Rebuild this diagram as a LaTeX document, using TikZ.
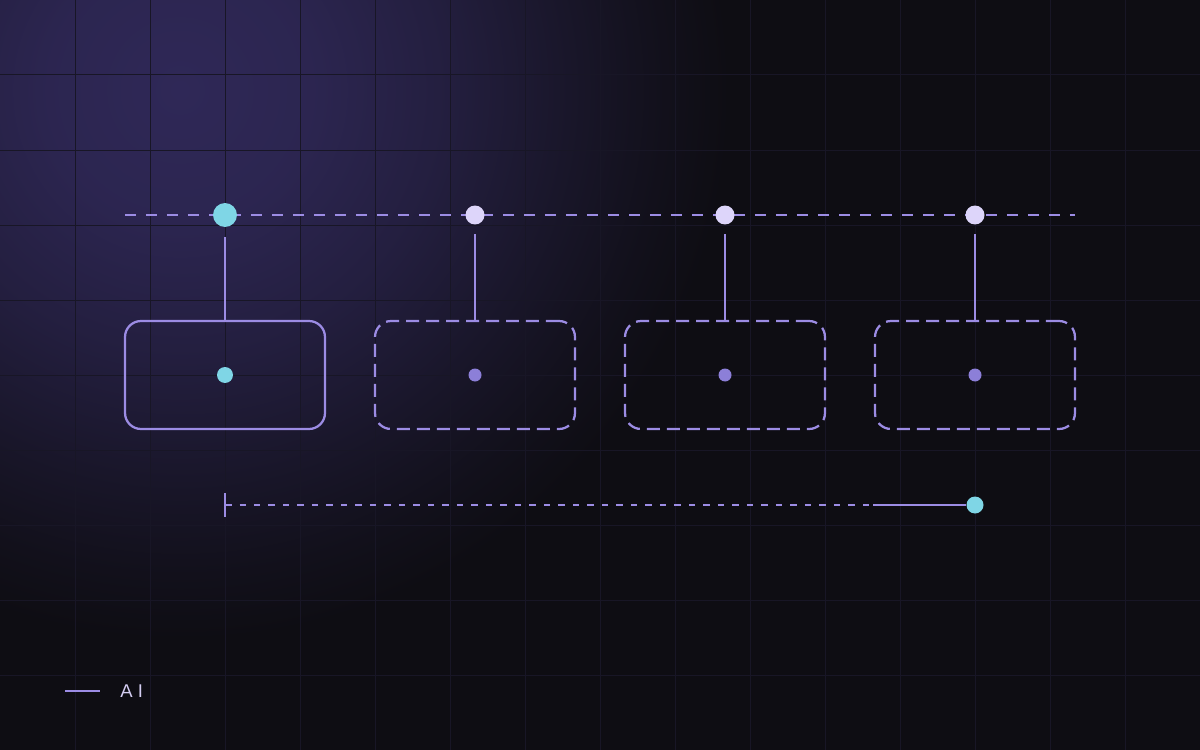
\documentclass[tikz,border=0pt]{standalone}
\usepackage{fontspec}
\setmainfont{Liberation Sans}
\usetikzlibrary{positioning}
\definecolor{bgc}{HTML}{0E0D13}
\definecolor{glowc}{HTML}{2F2857}
\definecolor{gridc}{HTML}{181626}
\definecolor{linec}{HTML}{9C8CE4}
\definecolor{cyanc}{HTML}{7FD6E6}
\definecolor{palec}{HTML}{DDD5FA}
\definecolor{dotc}{HTML}{8C7FD8}
\definecolor{textc}{HTML}{D4CDF2}
\pgfdeclareradialshading{glow}{\pgfpoint{0bp}{0bp}}{color(0bp)=(glowc); color(6bp)=(glowc!90!bgc); color(12bp)=(glowc!65!bgc); color(18bp)=(glowc!32!bgc); color(22bp)=(glowc!12!bgc); color(25bp)=(bgc); color(50bp)=(bgc)}
\tikzset{
	gridline/.style={draw=gridc, line width=0.02cm},
	wire/.style={draw=linec, line width=0.04cm},
	dashwire/.style={wire, dash pattern=on 0.22cm off 0.2cm},
	finedash/.style={draw=linec, line width=0.035cm, dash pattern=on 0.13cm off 0.16cm},
	card/.style={draw=linec, line width=0.045cm, rounded corners=0.32cm, minimum width=4cm, minimum height=2.16cm, inner sep=0pt},
	ghostcard/.style={card, dash pattern=on 0.26cm off 0.14cm},
	dot/.style={circle, fill=#1, draw=none, inner sep=0pt},
	pin/.style={dot=palec, minimum size=0.38cm},
}

\begin{document}
\begin{tikzpicture}[x=0.02cm, y=-0.02cm]
	\useasboundingbox (0,0) rectangle (1200,750);
	\fill[bgc] (0,0) rectangle (1200,750);
	\begin{scope}
		\clip (0,0) rectangle (1200,750);
		\shade[shading=glow] (180,90) circle (11cm);
	\end{scope}
	% grid
	\foreach \x in {75,150,...,1125} \draw[gridline] (\x,0) -- (\x,750);
	\foreach \y in {75,150,...,675} \draw[gridline] (0,\y) -- (1200,\y);

	% top rail
	\coordinate (tl) at (125,215);
	\coordinate (tr) at (1075,215);
	\draw[dashwire] (tl) -- (tr);
	\node[dot=cyanc, minimum size=0.48cm] (d1) at (225,215) {};
	\foreach \i/\x in {2/475, 3/725, 4/975} \node[pin] (d\i) at (\x,215) {};

	% cards
	\node[card] (b1) at (225,375) {};
	\node[dot=cyanc, minimum size=0.32cm] (c1) at (b1.center) {};
	\foreach \i/\x in {2/475, 3/725, 4/975} {
		\node[ghostcard] (b\i) at (\x,375) {};
		\node[dot=dotc, minimum size=0.26cm] (c\i) at (b\i.center) {};
	}
	\foreach \i in {1,...,4} \draw[wire, shorten <=0.19cm] (d\i.south) -- (b\i.north);

	% progress line
	\coordinate (ls) at (225,505);
	\coordinate (lm) at (873,505);
	\node[dot=cyanc, minimum size=0.34cm] (e) at (975,505) {};
	\draw[wire] (ls) ++(0,-12) -- ++(0,24);
	\draw[finedash] (ls) -- (lm);
	\draw[wire] (lm) -- (e);

	% legend
	\coordinate (k1) at (65,691);
	\draw[wire] (k1) -- ++(35,0) coordinate (k2);
	\node[right=0.4cm of k2, inner sep=0pt, text=textc, font=\fontsize{10.5}{12}\selectfont] (lab) {A I};
\end{tikzpicture}
\end{document}
